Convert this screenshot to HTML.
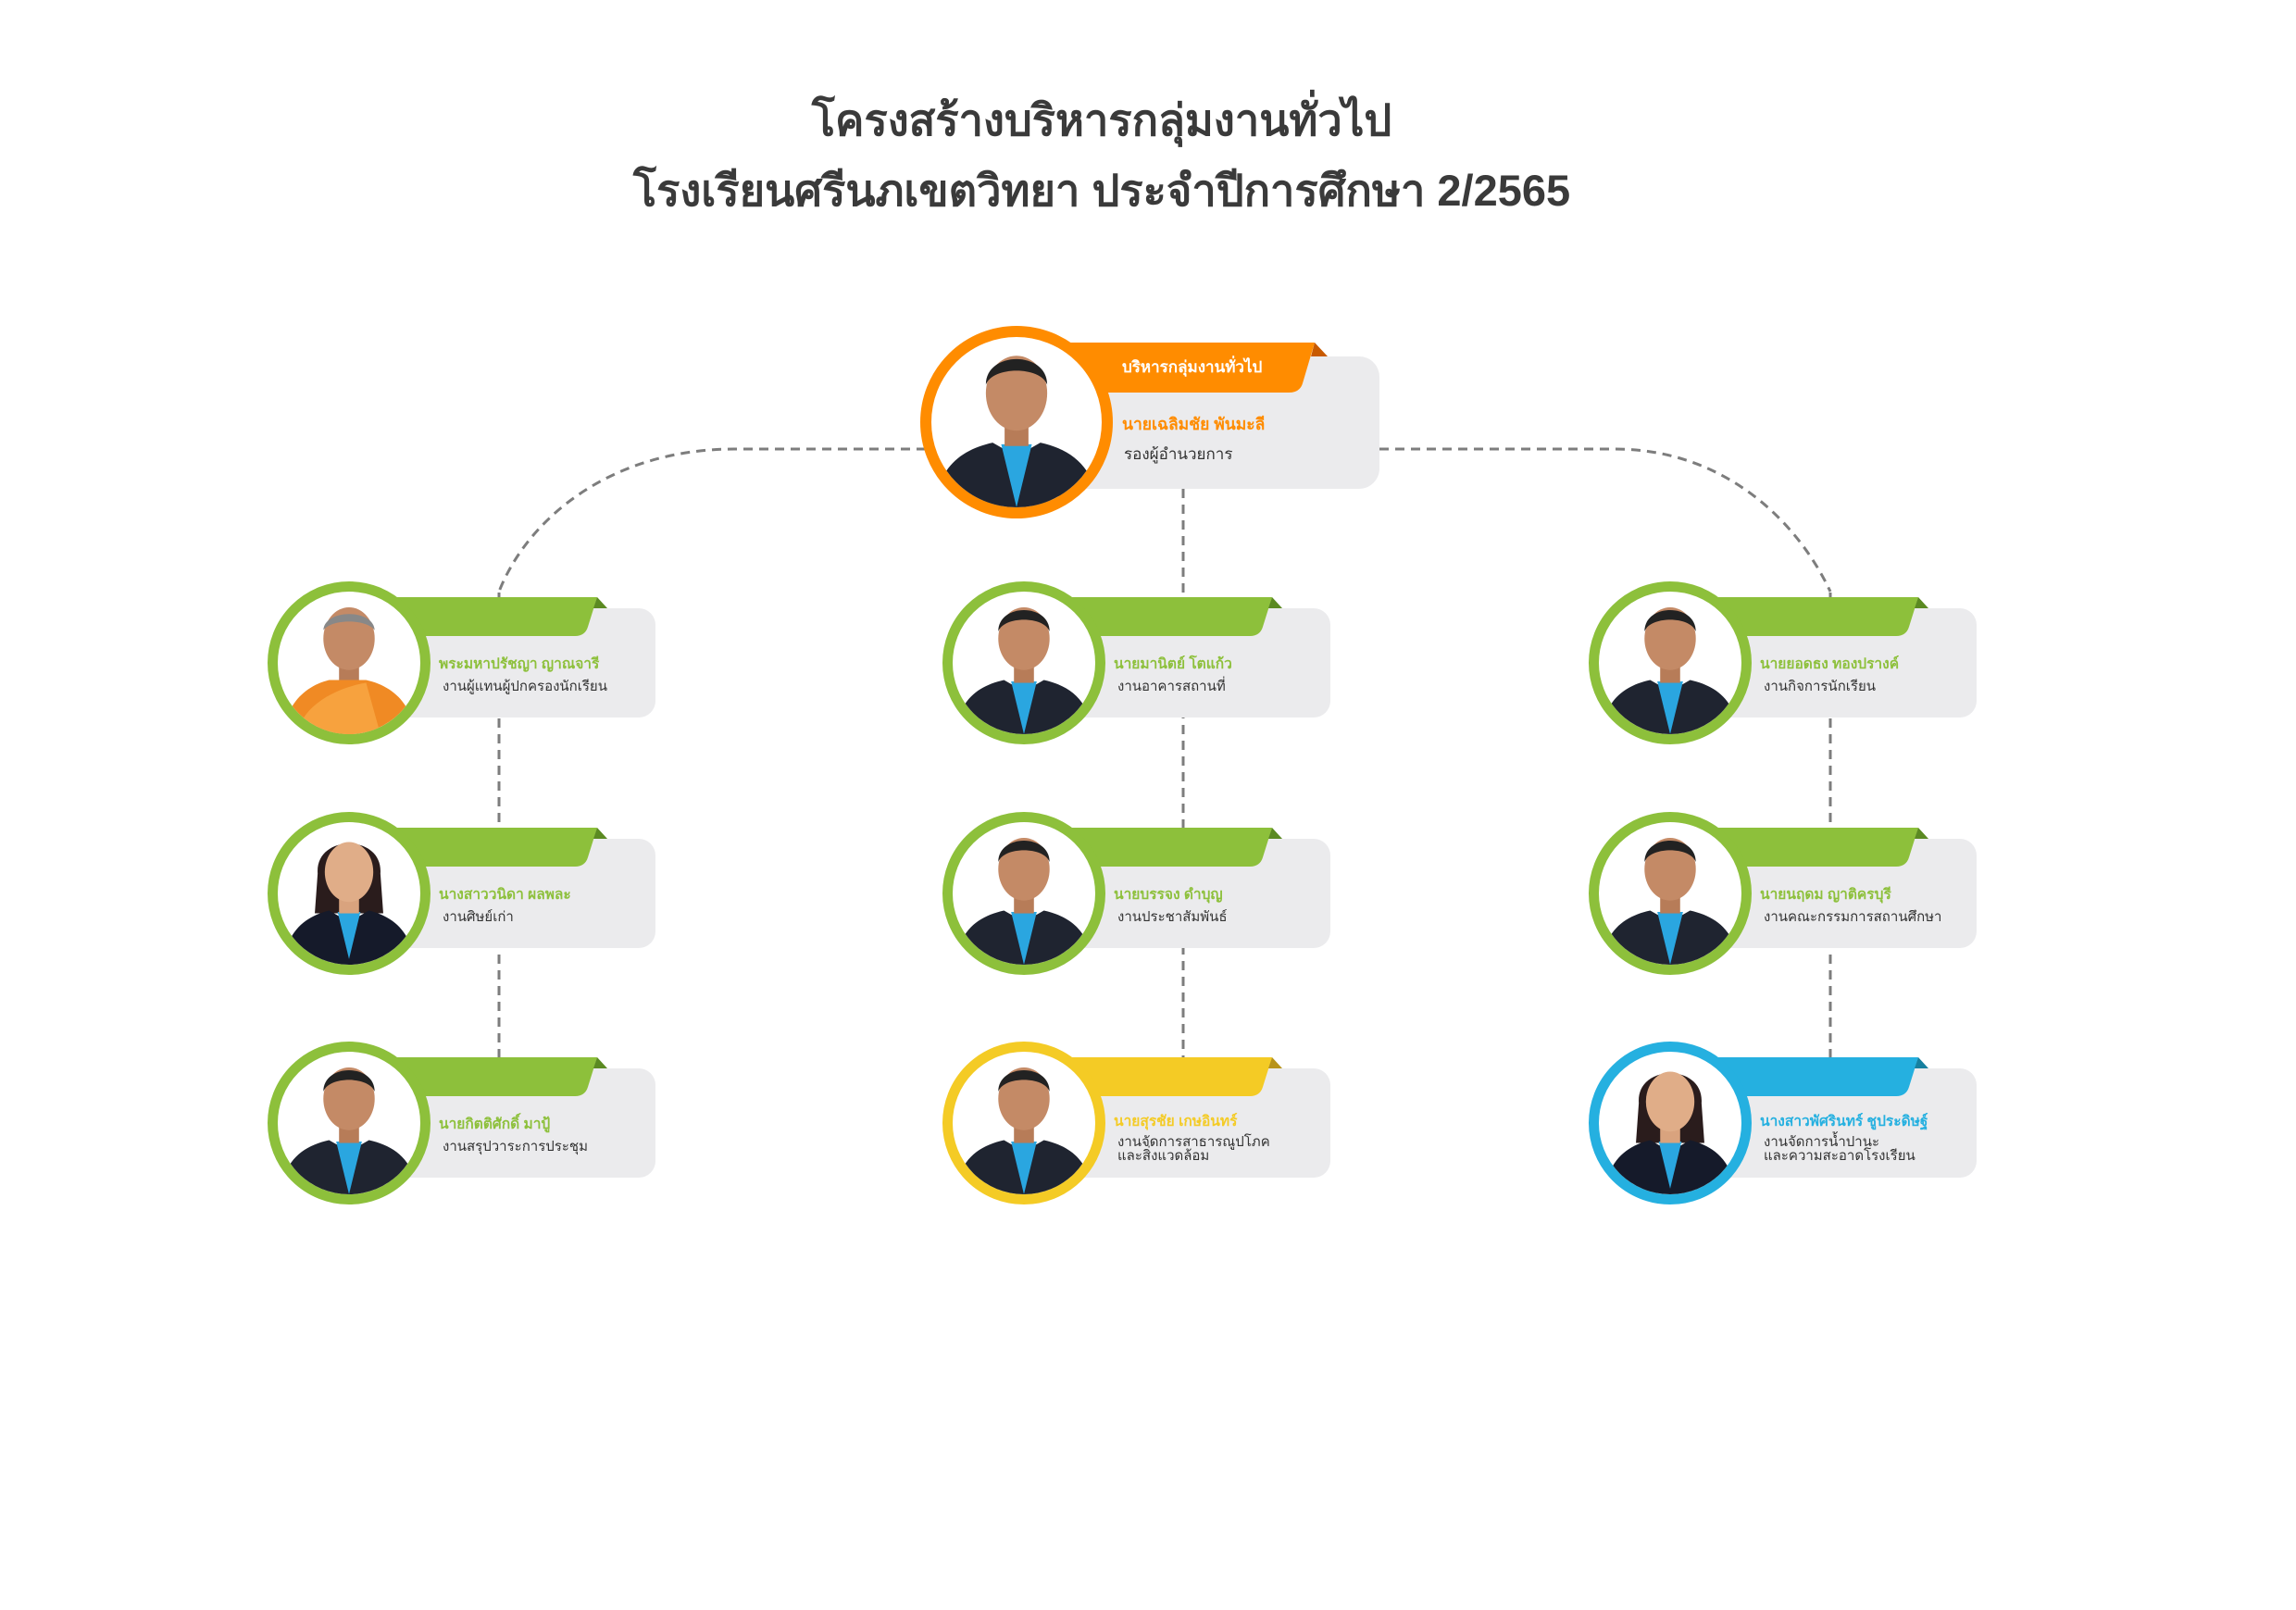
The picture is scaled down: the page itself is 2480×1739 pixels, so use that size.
<!DOCTYPE html>
<html><head><meta charset="utf-8">
<style>
html,body{margin:0;padding:0;}
body{width:2480px;height:1739px;background:#fff;position:relative;overflow:hidden;font-family:"Liberation Sans","DejaVu Sans","Noto Sans CJK SC",sans-serif;}
.title{position:absolute;left:0;width:2380px;text-align:center;color:#3a3a3a;font-weight:bold;font-size:47px;line-height:60px;}
.card{position:absolute;width:0;height:0;}
.box{position:absolute;left:0;top:-59px;width:331px;height:118px;border-radius:18px;background:#ebebed;}
.rib{position:absolute;left:0;top:-71px;overflow:visible;}
.ring{position:absolute;left:-88px;top:-88px;width:154px;height:154px;border-radius:50%;border:11px solid #8dc03b;background:#fff;overflow:hidden;}
.ring svg{position:absolute;left:0;top:0;width:154px;height:154px;}
.nm{position:absolute;left:97px;top:-8px;font-size:15.5px;line-height:20px;font-weight:bold;white-space:nowrap;}
.rl{position:absolute;left:101px;top:17px;font-size:15px;line-height:17px;color:#333;white-space:nowrap;}
.rl.two{top:13px;line-height:15px;}
</style></head><body>

<div class="title" style="top:100px;">โครงสร้างบริหารกลุ่มงานทั่วไป</div>
<div class="title" style="top:176px;">โรงเรียนศรีนภเขตวิทยา ประจำปีการศึกษา 2/2565</div>

<svg width="2480" height="1739" style="position:absolute;left:0;top:0">
<g fill="none" stroke="#7d7d7d" stroke-width="3" stroke-dasharray="10 7">
<path d="M1000 485 H793 C660 485 570 560 539 639"/>
<path d="M1490 485 H1744 C1860 485 1940 560 1977 639"/>
<path d="M1278 528 V1142"/>
<path d="M539 640 V1142"/>
<path d="M1977 640 V1142"/>
</g>
</svg>

<svg width="0" height="0" style="position:absolute">
<defs>
<symbol id="p" viewBox="0 0 100 100">
<path d="M2 100 C4 76 18 66 36 62 L50 70 L64 62 C82 66 96 76 98 100 Z" fill="#1f2430"/>
<path d="M41 63 L50 100 L59 63 Z" fill="#2aa6e0"/>
<rect x="43" y="46" width="14" height="18" fill="#b77c58"/>
<ellipse cx="50" cy="33" rx="18" ry="22" fill="#c48a66"/>
<path d="M32 28 C32 8 68 8 68 28 C64 17 36 17 32 28 Z" fill="#222"/>
</symbol>
<symbol id="pm" viewBox="0 0 100 100">
<rect x="43" y="46" width="14" height="18" fill="#b77c58"/>
<path d="M4 100 C6 78 20 66 36 62 L62 62 C80 66 94 78 96 100 Z" fill="#f08a24"/>
<path d="M14 100 C16 82 38 68 62 64 L72 100 Z" fill="#f7a23e"/>
<ellipse cx="50" cy="33" rx="18" ry="22" fill="#c48a66"/>
<path d="M32 27 C33 12 67 12 68 27 C62 19 38 19 32 27 Z" fill="#888"/>
</symbol>
<symbol id="pf" viewBox="0 0 100 100">
<path d="M28 36 C26 8 74 8 72 36 L74 64 L26 64 Z" fill="#2a1c1c"/>
<path d="M4 100 C6 76 20 66 36 62 L50 70 L64 62 C80 66 94 76 96 100 Z" fill="#151a2a"/>
<path d="M42 63 L50 96 L58 63 Z" fill="#2aa6e0"/>
<rect x="43" y="46" width="14" height="18" fill="#d9a37e"/>
<ellipse cx="50" cy="35" rx="17" ry="21" fill="#e0ad88"/>
</symbol>
</defs>
</svg>

<!-- top card -->
<div class="card" style="left:1098px;top:456px;">
<div class="box" style="top:-71px;width:392px;height:143px;border-radius:22px;"></div>
<svg class="rib" style="top:-86px" width="340" height="60"><path d="M0 0 H322 L309 44 Q306 54 294 54 H0 Z" fill="#ff8c00"/><polygon points="322,0 336,15 318,15" fill="#c85a00"/></svg>
<div class="ring" style="left:-104px;top:-104px;width:184px;height:184px;border:12px solid #ff8c00;"><svg viewBox="0 0 100 100" style="width:184px;height:184px"><use href="#p"/></svg></div>
<div style="position:absolute;left:114px;top:-70px;color:#fff;font-weight:bold;font-size:17px;line-height:22px;white-space:nowrap;">บริหารกลุ่มงานทั่วไป</div>
<div class="nm" style="left:114px;top:-9px;font-size:17.5px;line-height:22px;color:#ff8c00;">นายเฉลิมชัย พันมะลี</div>
<div class="rl" style="left:116px;top:24px;font-size:17px;line-height:22px;">รองผู้อำนวยการ</div>
</div>

<!-- left column -->
<div class="card" style="left:377px;top:716px;">
<div class="box"></div>
<svg class="rib" width="290" height="50"><path d="M0 0 H268 L258 32 Q255 42 244 42 H0 Z" fill="#8dc03b"/><polygon points="268,0 279,12 264,12" fill="#5b8a22"/></svg>
<div class="ring"><svg viewBox="0 0 100 100"><use href="#pm"/></svg></div>
<div class="nm" style="color:#8dc03b">พระมหาปรัชญา ญาณจารี</div>
<div class="rl">งานผู้แทนผู้ปกครองนักเรียน</div>
</div>
<div class="card" style="left:377px;top:965px;">
<div class="box"></div>
<svg class="rib" width="290" height="50"><path d="M0 0 H268 L258 32 Q255 42 244 42 H0 Z" fill="#8dc03b"/><polygon points="268,0 279,12 264,12" fill="#5b8a22"/></svg>
<div class="ring"><svg viewBox="0 0 100 100"><use href="#pf"/></svg></div>
<div class="nm" style="color:#8dc03b">นางสาววนิดา ผลพละ</div>
<div class="rl">งานศิษย์เก่า</div>
</div>
<div class="card" style="left:377px;top:1213px;">
<div class="box"></div>
<svg class="rib" width="290" height="50"><path d="M0 0 H268 L258 32 Q255 42 244 42 H0 Z" fill="#8dc03b"/><polygon points="268,0 279,12 264,12" fill="#5b8a22"/></svg>
<div class="ring"><svg viewBox="0 0 100 100"><use href="#p"/></svg></div>
<div class="nm" style="color:#8dc03b">นายกิตติศักดิ์ มาปู้</div>
<div class="rl">งานสรุปวาระการประชุม</div>
</div>

<!-- middle column -->
<div class="card" style="left:1106px;top:716px;">
<div class="box"></div>
<svg class="rib" width="290" height="50"><path d="M0 0 H268 L258 32 Q255 42 244 42 H0 Z" fill="#8dc03b"/><polygon points="268,0 279,12 264,12" fill="#5b8a22"/></svg>
<div class="ring"><svg viewBox="0 0 100 100"><use href="#p"/></svg></div>
<div class="nm" style="color:#8dc03b">นายมานิตย์ โตแก้ว</div>
<div class="rl">งานอาคารสถานที่</div>
</div>
<div class="card" style="left:1106px;top:965px;">
<div class="box"></div>
<svg class="rib" width="290" height="50"><path d="M0 0 H268 L258 32 Q255 42 244 42 H0 Z" fill="#8dc03b"/><polygon points="268,0 279,12 264,12" fill="#5b8a22"/></svg>
<div class="ring"><svg viewBox="0 0 100 100"><use href="#p"/></svg></div>
<div class="nm" style="color:#8dc03b">นายบรรจง ดำบุญ</div>
<div class="rl">งานประชาสัมพันธ์</div>
</div>
<div class="card" style="left:1106px;top:1213px;">
<div class="box"></div>
<svg class="rib" width="290" height="50"><path d="M0 0 H268 L258 32 Q255 42 244 42 H0 Z" fill="#f4cb25"/><polygon points="268,0 279,12 264,12" fill="#b8931a"/></svg>
<div class="ring" style="border-color:#f4cb25"><svg viewBox="0 0 100 100"><use href="#p"/></svg></div>
<div class="nm" style="color:#f4cb25;top:-11px">นายสุรชัย เกษอินทร์</div>
<div class="rl two">งานจัดการสาธารณูปโภค<br>และสิ่งแวดล้อม</div>
</div>

<!-- right column -->
<div class="card" style="left:1804px;top:716px;">
<div class="box"></div>
<svg class="rib" width="290" height="50"><path d="M0 0 H268 L258 32 Q255 42 244 42 H0 Z" fill="#8dc03b"/><polygon points="268,0 279,12 264,12" fill="#5b8a22"/></svg>
<div class="ring"><svg viewBox="0 0 100 100"><use href="#p"/></svg></div>
<div class="nm" style="color:#8dc03b">นายยอดธง ทองปรางค์</div>
<div class="rl">งานกิจการนักเรียน</div>
</div>
<div class="card" style="left:1804px;top:965px;">
<div class="box"></div>
<svg class="rib" width="290" height="50"><path d="M0 0 H268 L258 32 Q255 42 244 42 H0 Z" fill="#8dc03b"/><polygon points="268,0 279,12 264,12" fill="#5b8a22"/></svg>
<div class="ring"><svg viewBox="0 0 100 100"><use href="#p"/></svg></div>
<div class="nm" style="color:#8dc03b">นายนฤดม ญาติครบุรี</div>
<div class="rl">งานคณะกรรมการสถานศึกษา</div>
</div>
<div class="card" style="left:1804px;top:1213px;">
<div class="box"></div>
<svg class="rib" width="290" height="50"><path d="M0 0 H268 L258 32 Q255 42 244 42 H0 Z" fill="#25b0e0"/><polygon points="268,0 279,12 264,12" fill="#17809f"/></svg>
<div class="ring" style="border-color:#25b0e0"><svg viewBox="0 0 100 100"><use href="#pf"/></svg></div>
<div class="nm" style="color:#25b0e0;top:-11px">นางสาวพัศรินทร์ ชูประดิษฐ์</div>
<div class="rl two">งานจัดการน้ำปานะ<br>และความสะอาดโรงเรียน</div>
</div>

</body></html>
